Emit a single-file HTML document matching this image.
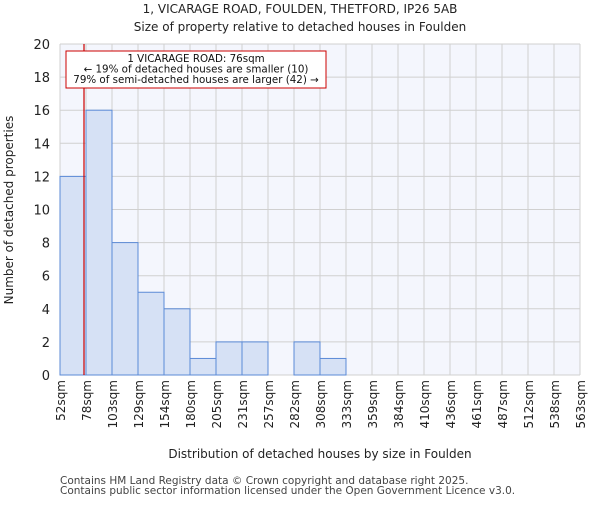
<!DOCTYPE html>
<html><head><meta charset="utf-8"><style>body{margin:0;background:#fff}svg{font-family:"DejaVu Sans","Liberation Sans",sans-serif}</style></head>
<body>
<svg id="c" width="600" height="500" xmlns="http://www.w3.org/2000/svg">
<text x="300" y="13" text-anchor="middle" font-size="12" fill="#222">1, VICARAGE ROAD, FOULDEN, THETFORD, IP26 5AB</text>
<text x="300" y="31" text-anchor="middle" font-size="12" fill="#222">Size of property relative to detached houses in Foulden</text>
<rect x="60" y="44" width="520" height="331" fill="#f4f6fd"/>
<g id="grid"></g><g id="bars"></g><g id="axes"></g>
<text transform="translate(13,210) rotate(-90)" text-anchor="middle" font-size="12" fill="#222">Number of detached properties</text>
<text x="320" y="458" text-anchor="middle" font-size="12" fill="#222">Distribution of detached houses by size in Foulden</text>
<text x="60" y="484" font-size="10.5" fill="#444">Contains HM Land Registry data © Crown copyright and database right 2025.</text>
<text x="60" y="494" font-size="10.5" fill="#444">Contains public sector information licensed under the Open Government Licence v3.0.</text>
<g id="ann"></g>
</svg>
<script>
const binLabels=["52sqm","78sqm","103sqm","129sqm","154sqm","180sqm","205sqm","231sqm","257sqm","282sqm","308sqm","333sqm","359sqm","384sqm","410sqm","436sqm","461sqm","487sqm","512sqm","538sqm","563sqm"];
const binEdges=[52,78,103,129,154,180,205,231,257,282,308,333,359,384,410,436,461,487,512,538,563];
const counts=[12,16,8,5,4,1,2,2,0,2,1,0,0,0,0,0,0,0,0,0];
const yTicks=[0,2,4,6,8,10,12,14,16,18,20];
const propertySize=76;
const NS="http://www.w3.org/2000/svg";
const X0=60,X1=580,Y0=375,Y1=44,nb=counts.length,bw=(X1-X0)/nb;
const xi=i=>X0+i*bw;
const y=v=>Y0-(v/20)*(Y0-Y1);
const xv=v=>{let i=0;while(i<binEdges.length-2&&v>binEdges[i+1])i++;return xi(i)+(v-binEdges[i])/(binEdges[i+1]-binEdges[i])*bw;};
function mk(t,a,p){const e=document.createElementNS(NS,t);for(const k in a)e.setAttribute(k,a[k]);p.appendChild(e);return e;}
const g=document.getElementById('grid'),b=document.getElementById('bars'),ax=document.getElementById('axes'),an=document.getElementById('ann');
yTicks.forEach(t=>{const l=mk('line',{x1:X0,x2:X1,y1:y(t),y2:y(t),stroke:'#d0d0d0'},g);


const tx=mk('text',{x:50,y:y(t)+5,'text-anchor':'end','font-size':13,fill:'#222'},ax);tx.textContent=t;

});
binLabels.forEach((s,i)=>{const l=mk('line',{x1:xi(i),x2:xi(i),y1:Y1,y2:Y0,stroke:'#d0d0d0'},g);


const tx=mk('text',{transform:`translate(${xi(i)+5},${Y0+5}) rotate(-90)`,'text-anchor':'end','font-size':12,fill:'#222'},ax);tx.textContent=s;

});
counts.forEach((c,i)=>{if(!c)return;const r=mk('rect',{x:xi(i),y:y(c),width:bw,height:Y0-y(c),fill:'#d6e1f5',stroke:'#5b8ad6','stroke-width':1},b);

});
const px=xv(propertySize);
const ml=mk('line',{x1:px,x2:px,y1:Y1,y2:Y0,stroke:'#cc0000','stroke-width':1.2},an);


const box=mk('rect',{x:66,y:51,width:260,height:37,fill:'#fff',stroke:'#cc0000'},an);


["1 VICARAGE ROAD: 76sqm","← 19% of detached houses are smaller (10)","79% of semi-detached houses are larger (42) →"].forEach((s,i)=>{const t=mk('text',{x:196,y:62+i*10.5,'text-anchor':'middle','font-size':10.3,fill:'#111'},an);t.textContent=s;

});
</script>
</body></html>
